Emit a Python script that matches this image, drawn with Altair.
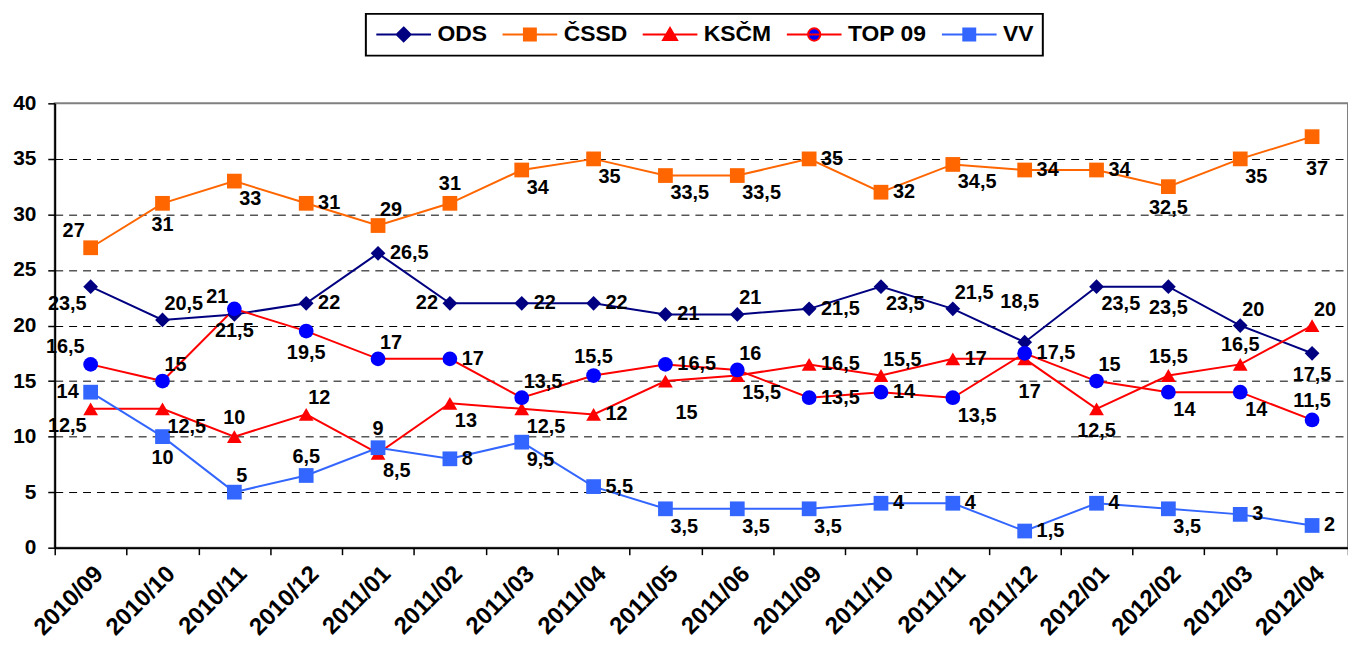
import altair as alt
import pandas as pd

months = ["2010/09", "2010/10", "2010/11", "2010/12", "2011/01", "2011/02",
          "2011/03", "2011/04", "2011/05", "2011/06", "2011/09", "2011/10",
          "2011/11", "2011/12", "2012/01", "2012/02", "2012/03", "2012/04"]
parties = ["ODS", "ČSSD", "KSČM", "TOP 09", "VV"]

ods = [23.5, 20.5, 21, 22, 26.5, 22, 22, 22, 21, 21, 21.5, 23.5, 21.5, 18.5, 23.5, 23.5, 20, 17.5]
cssd = [27, 31, 33, 31, 29, 31, 34, 35, 33.5, 33.5, 35, 32, 34.5, 34, 34, 32.5, 35, 37]
kscm = [12.5, 12.5, 10, 12, 8.5, 13, 12.5, 12, 15, 15.5, 16.5, 15.5, 17, 17, 12.5, 15.5, 16.5, 20]
top09 = [16.5, 15, 21.5, 19.5, 17, 17, 13.5, 15.5, 16.5, 16, 13.5, 14, 13.5, 17.5, 15, 14, 14, 11.5]
vv = [14, 10, 5, 6.5, 9, 8, 9.5, 5.5, 3.5, 3.5, 3.5, 4, 4, 1.5, 4, 3.5, 3, 2]

# data-label placement codes (R=right, L=left, A=above, B=below, ...)
ods_pos = ["BL", "AR", "AL", "R", "R", "L", "R", "R", "R", "AR", "R", "BR", "AR", "AA", "BR", "B", "AR", "B"]
cssd_pos = ["AL", "B", "BR", "R", "AR", "A", "BR", "BR", "BR", "BR", "R", "R", "BR", "R", "R", "B", "BR", "BB"]
kscm_pos = ["BL", "BR", "A", "AR", "BR", "BR", "BR", "R", "BR2", "BR", "R", "AR", "R", "BB", "B", "A", "A", "AR"]
top09_pos = ["AL", "AR", "B", "B", "AR", "R", "AR", "A", "R", "AR", "R", "R", "BR", "R", "AR", "BR", "BR", "A"]
vv_pos = ["L", "B", "AR", "A", "A", "R", "BR", "R", "BR", "BR", "BR", "R", "R", "R", "R", "BR", "R", "R"]

line_colors = ["#000080", "#FF6600", "#FF0000", "#FF0000", "#3366FF"]
marker_colors = ["#000080", "#FF6600", "#FF0000", "#0000FF", "#3366FF"]
marker_shapes = ["diamond", "square", "triangle-up", "circle", "square"]

POS = {
    "R": ("left", 12, 0),
    "L": ("right", -12, 0),
    "A": ("center", 0, -19),
    "AA": ("center", -5, -40),
    "B": ("center", 0, 22),
    "BB": ("center", 5, 33),
    "AR": ("left", 2, -16),
    "AL": ("right", -6, -17),
    "BR": ("left", 5, 18),
    "BL": ("right", -4, 17),
    "BR2": ("left", 10, 32),
}

series = [ods, cssd, kscm, top09, vv]
positions = [ods_pos, cssd_pos, kscm_pos, top09_pos, vv_pos]
rows = []
for p, vals, poss in zip(parties, series, positions):
    for m, v, ps in zip(months, vals, poss):
        rows.append({"party": p, "month": m, "value": v,
                     "label": f"{v:g}".replace(".", ","), "pos": ps})
df = pd.DataFrame(rows)

FONT = "Liberation Sans"

# legend symbols: short line + marker; symbol unit = 10 px (symbolSize 400)
def legend_path(marker):
    line = "M-1,0H4.5"
    c = 1.75
    if marker == "diamond":
        m = f"M{c},-0.7L{c+0.7},0L{c},0.7L{c-0.7},0Z"
    elif marker == "square":
        m = f"M{c-0.6},-0.6H{c+0.6}V0.6H{c-0.6}Z"
    elif marker == "triangle":
        m = f"M{c},-0.65L{c+0.7},0.55L{c-0.7},0.55Z"
    else:
        m = f"M{c-0.62},0A0.62,0.62 0 1,0 {c+0.62},0A0.62,0.62 0 1,0 {c-0.62},0Z"
    return line + m

legend_shapes = [legend_path("diamond"), legend_path("square"), legend_path("triangle"),
                 legend_path("circle"), legend_path("square")]

x_enc = alt.X("month:N", sort=months,
              scale=alt.Scale(type="band", paddingInner=0, paddingOuter=0),
              axis=alt.Axis(title=None, labelAngle=315, labelFontSize=24, labelFontWeight="bold",
                            labelColor="black", labelFont=FONT, domainColor="black", domainWidth=2,
                            tickColor="black", tickWidth=1.5, tickSize=7, tickBand="extent",
                            labelPadding=7, grid=False))
y_enc = alt.Y("value:Q", scale=alt.Scale(domain=[0, 40], nice=False),
              axis=alt.Axis(title=None, values=[0, 5, 10, 15, 20, 25, 30, 35, 40],
                            labelFontSize=21, labelFontWeight="bold", labelColor="black",
                            labelFont=FONT, domainColor="black", domainWidth=2,
                            tickColor="black", tickWidth=1.5, tickSize=7, labelPadding=12,
                            gridColor="black", gridDash=[8, 6], gridWidth=1,
                            gridOpacity={"condition": {"test": "datum.value == 40 || datum.value == 0",
                                                       "value": 0}, "value": 1}))

base = alt.Chart(df)

lines = base.mark_line(strokeWidth=2).encode(
    x=x_enc, y=y_enc,
    color=alt.Color("party:N", scale=alt.Scale(domain=parties, range=line_colors), legend=None),
)

points = base.mark_point(filled=True, opacity=1, size=220).encode(
    x=x_enc, y=y_enc,
    fill=alt.Fill("party:N", scale=alt.Scale(domain=parties, range=marker_colors), legend=None),
    shape=alt.Shape("party:N", scale=alt.Scale(domain=parties, range=marker_shapes), legend=None),
)

leg = alt.Legend(title=None, orient="none", legendX=313, legendY=-90, direction="horizontal",
                 symbolSize=400, symbolStrokeWidth=2, symbolOpacity=1,
                 labelFontSize=23, labelFontWeight="bold", labelFont=FONT, labelColor="black",
                 labelOffset=40, columnPadding=11, padding=9,
                 strokeColor="black", fillColor="white")

legend_layer = base.transform_filter("false").mark_point(filled=True, opacity=1, strokeWidth=2).encode(
    x=x_enc, y=y_enc,
    fill=alt.Fill("party:N", scale=alt.Scale(domain=parties, range=marker_colors), legend=leg),
    stroke=alt.Stroke("party:N", scale=alt.Scale(domain=parties, range=line_colors), legend=leg),
    shape=alt.Shape("party:N", scale=alt.Scale(domain=parties, range=legend_shapes), legend=leg),
)

texts = []
for code, (align, dx, dy) in POS.items():
    texts.append(
        base.transform_filter(alt.datum.pos == code).mark_text(
            align=align, dx=dx, dy=dy, baseline="middle", fontSize=20,
            fontWeight="bold", font=FONT, color="black"
        ).encode(x=x_enc, y=y_enc, text="label:N")
    )

chart = alt.layer(lines, points, legend_layer, *texts).resolve_scale(
    shape="independent", fill="independent", stroke="independent"
).properties(
    width=1301, height=447,
    padding={"left": 47, "top": 94, "right": 0, "bottom": 100},
    autosize=alt.AutoSizeParams(type="none"),
).configure(font=FONT).configure_view(
    stroke="#808080", strokeWidth=2
).configure_legend(strokeWidth=2)

chart.save("out.html", embed_options={"renderer": "svg", "actions": False})
